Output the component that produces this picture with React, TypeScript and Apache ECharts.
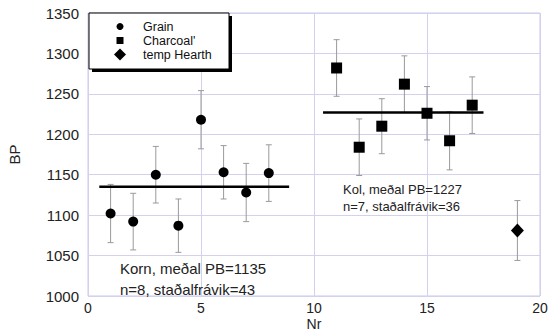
import React, { useEffect, useRef } from "react";
import * as echarts from "echarts";

const grainX = [1, 2, 3, 4, 5, 6, 7, 8];
const grainY = [1102, 1092, 1150, 1087, 1218, 1153, 1128, 1152];
const grainErr = [36, 35, 35, 33, 36, 33, 36, 35];

const charcoalX = [11, 12, 13, 14, 15, 16, 17];
const charcoalY = [1282, 1184, 1210, 1262, 1226, 1192, 1236];
const charcoalErr = [35, 35, 34, 35, 33, 36, 35];

const hearthX = [19];
const hearthY = [1081];
const hearthErr = [37];

const grainMean = 1135;
const grainMeanRange = [0.5, 8.9];
const charcoalMean = 1227;
const charcoalMeanRange = [10.4, 17.5];

const yTicks = [1000, 1050, 1100, 1150, 1200, 1250, 1300, 1350];
const xTicks = [0, 5, 10, 15, 20];
const legendNames = ["Grain", "Charcoal'", "temp Hearth"];

const FONT = "'Liberation Sans', Arial, sans-serif";

export default function App() {
  const ref = useRef<HTMLDivElement>(null);
  useEffect(() => {
    if (!ref.current) return;
    const chart = echarts.init(ref.current, null, { renderer: "svg" });
    const errData = (xs: number[], ys: number[], es: number[]) =>
      xs.map((x, i) => [x, ys[i] - es[i], ys[i] + es[i]]);
    const errSeries = (name: string, data: number[][]) => ({
      type: "custom",
      name,
      z: 1,
      data,
      encode: { x: 0, y: [1, 2] },
      renderItem: (params: any, api: any) => {
        const x = api.value(0);
        const lo = api.value(1);
        const hi = api.value(2);
        const p1 = api.coord([x, hi]);
        const p2 = api.coord([x, lo]);
        const hw = 3;
        const st = { stroke: "#9a9a9a", lineWidth: 1 };
        return {
          type: "group",
          children: [
            { type: "line", shape: { x1: p1[0], y1: p1[1], x2: p2[0], y2: p2[1] }, style: st },
            { type: "line", shape: { x1: p1[0] - hw, y1: p1[1], x2: p1[0] + hw, y2: p1[1] }, style: st },
            { type: "line", shape: { x1: p2[0] - hw, y1: p2[1], x2: p2[0] + hw, y2: p2[1] }, style: st },
          ],
        };
      },
    });
    const pts = (xs: number[], ys: number[]) => xs.map((x, i) => [x, ys[i]]);
    const lx = 120;
    const ly = [26.5, 40.5, 54.5];
    const legendGraphics: any[] = [
      {
        type: "rect",
        z: 4,
        shape: { x: 92, y: 16, width: 140, height: 56 },
        style: { fill: "#000" },
      },
      {
        type: "rect",
        z: 5,
        shape: { x: 89, y: 13, width: 140, height: 56 },
        style: { fill: "#fff", stroke: "#000", lineWidth: 1 },
      },
      { type: "circle", z: 6, shape: { cx: lx, cy: ly[0], r: 3.5 }, style: { fill: "#000" } },
      { type: "rect", z: 6, shape: { x: lx - 3.5, y: ly[1] - 3.5, width: 7, height: 7 }, style: { fill: "#000" } },
      {
        type: "polygon",
        z: 6,
        shape: {
          points: [
            [lx, ly[2] - 6],
            [lx + 6, ly[2]],
            [lx, ly[2] + 6],
            [lx - 6, ly[2]],
          ],
        },
        style: { fill: "#000" },
      },
      ...legendNames.map((n, i) => ({
        type: "text",
        z: 6,
        x: 143,
        y: ly[i],
        style: {
          text: n,
          fontSize: 12.5,
          lineHeight: 13,
          fill: "#111",
          fontFamily: FONT,
          verticalAlign: "middle",
          textAlign: "left",
        },
      })),
    ];
    chart.setOption({
      animation: false,
      textStyle: { fontFamily: FONT },
      grid: {
        left: 88,
        right: 8,
        top: 13,
        bottom: 37,
        show: true,
        outerBoundsMode: "none",
        containLabel: false,
        borderColor: "#c9c9ea",
        borderWidth: 1,
      },
      xAxis: {
        type: "value",
        min: 0,
        max: 20,
        interval: 5,
        name: "Nr",
        nameLocation: "middle",
        nameGap: 21,
        nameMoveOverlap: false,
        nameTextStyle: { fontSize: 14, lineHeight: 14, color: "#222", fontFamily: FONT },
        axisLine: { show: false },
        axisTick: { show: false },
        axisLabel: {
          margin: 4,
          fontSize: 14,
          lineHeight: 15,
          color: "#222",
          fontFamily: FONT,
          formatter: (v: number) => (xTicks.includes(v) ? String(v) : ""),
        },
        splitLine: { show: true, lineStyle: { color: "#d2d2ef", width: 1 } },
      },
      yAxis: {
        type: "value",
        min: 1000,
        max: 1350,
        interval: 50,
        name: "BP",
        nameLocation: "middle",
        nameGap: 66,
        nameMoveOverlap: false,
        nameRotate: 90,
        nameTextStyle: { fontSize: 15, color: "#222", fontFamily: FONT },
        axisLine: { show: false },
        axisTick: { show: false },
        axisLabel: {
          margin: 9,
          fontSize: 15,
          color: "#222",
          fontFamily: FONT,
          formatter: (v: number) => (yTicks.includes(v) ? String(v) : ""),
        },
        splitLine: { show: true, lineStyle: { color: "#d2d2ef", width: 1 } },
      },
      graphic: [
        ...legendGraphics,
        {
          type: "text",
          z: 5,
          x: 120,
          y: 268,
          style: {
            text: "Korn, meðal PB=1135",
            fontSize: 15,
            fill: "#222",
            fontFamily: FONT,
            verticalAlign: "middle",
          },
        },
        {
          type: "text",
          z: 5,
          x: 120,
          y: 289,
          style: {
            text: "n=8, staðalfrávik=43",
            fontSize: 15,
            fill: "#222",
            fontFamily: FONT,
            verticalAlign: "middle",
          },
        },
        {
          type: "text",
          z: 5,
          x: 343,
          y: 189,
          style: {
            text: "Kol, meðal PB=1227",
            fontSize: 13,
            fill: "#222",
            fontFamily: FONT,
            verticalAlign: "middle",
          },
        },
        {
          type: "text",
          z: 5,
          x: 343,
          y: 206,
          style: {
            text: "n=7, staðalfrávik=36",
            fontSize: 13,
            fill: "#222",
            fontFamily: FONT,
            verticalAlign: "middle",
          },
        },
      ],
      series: [
        errSeries("grainErr", errData(grainX, grainY, grainErr)),
        errSeries("charcoalErr", errData(charcoalX, charcoalY, charcoalErr)),
        errSeries("hearthErr", errData(hearthX, hearthY, hearthErr)),
        {
          type: "line",
          name: "grainMean",
          z: 2,
          data: [
            [grainMeanRange[0], grainMean],
            [grainMeanRange[1], grainMean],
          ],
          symbol: "none",
          lineStyle: { color: "#000", width: 2.5 },
        },
        {
          type: "line",
          name: "charcoalMean",
          z: 2,
          data: [
            [charcoalMeanRange[0], charcoalMean],
            [charcoalMeanRange[1], charcoalMean],
          ],
          symbol: "none",
          lineStyle: { color: "#000", width: 2.5 },
        },
        {
          type: "scatter",
          name: "Grain",
          z: 3,
          symbol: "circle",
          symbolSize: 10,
          itemStyle: { color: "#000", opacity: 1 },
          data: pts(grainX, grainY),
        },
        {
          type: "scatter",
          name: "Charcoal'",
          z: 3,
          symbol: "rect",
          symbolSize: 11,
          itemStyle: { color: "#000", opacity: 1 },
          data: pts(charcoalX, charcoalY),
        },
        {
          type: "scatter",
          name: "temp Hearth",
          z: 3,
          symbol: "diamond",
          symbolSize: [13, 14],
          itemStyle: { color: "#000", opacity: 1 },
          data: pts(hearthX, hearthY),
        },
      ],
    });
    return () => chart.dispose();
  }, []);
  return (
    <div
      ref={ref}
      style={{ position: "absolute", left: 0, top: 0, width: 548, height: 333, background: "#fff" }}
    />
  );
}
